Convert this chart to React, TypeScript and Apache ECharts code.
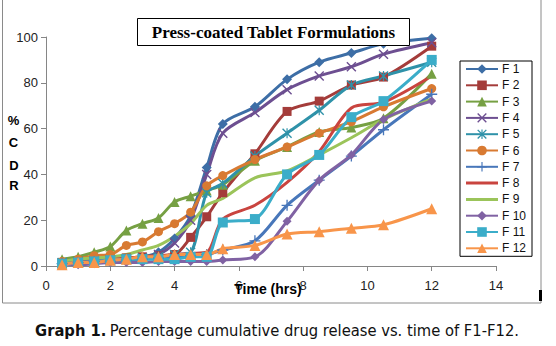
import React, { useEffect, useRef } from "react";
import * as echarts from "echarts";

const times = [0.5, 1, 1.5, 2, 2.5, 3, 3.5, 4, 4.5, 5, 5.5, 6.5, 7.5, 8.5, 9.5, 10.5, 12];

const f1 = [1, 1.5, 2, 2.5, 3, 4, 6, 12, 22, 43, 62, 69.5, 81.5, 89, 93, 97, 99.5];
const f2 = [1.5, 2, 2.5, 3, 3.5, 4, 4.5, 5, 12.5, 21.5, 32, 49, 67.5, 72, 79, 82.5, 96];
const f3 = [3, 4, 6, 8.5, 15.5, 18.5, 21, 28, 30.5, 33, 35.5, 46, 52, 58.5, 60.5, 64.5, 84];
const f4 = [1, 1.5, 2, 2.5, 3, 3.5, 5, 10, 20, 40, 58, 67, 77, 83, 87, 92.5, 97.5];
const f5 = [1.5, 2, 2.5, 3, 3, 3.5, 4, 5, 6, 32, 36, 48, 58, 68, 79, 83, 89];
const f6 = [2, 3, 4.5, 5, 9, 10.5, 15, 18.5, 23.5, 35, 39.5, 46.5, 52, 58, 63, 69.5, 77.5];
const f7 = [1, 1.5, 2, 2, 2.5, 3, 3.5, 4, 4.5, 5, 7, 11, 26.5, 37.5, 48, 59.5, 75];
const f8 = [1.5, 2, 2.5, 3, 3.5, 4, 4.5, 5, 5.5, 6, 20.5, 26.5, 36.5, 50, 69, 71.5, 83];
const f9 = [2, 3, 3.5, 4, 5, 7, 9, 13, 18.5, 26.5, 29.5, 38.5, 41.5, 48.5, 56, 64, 73];
const f10 = [1, 0.5, 1, 1.5, 1.5, 1.5, 2, 2, 2, 2, 2.6, 4, 19.5, 37.5, 48.5, 64, 72];
const f11 = [1, 1.5, 2, 2.5, 3, 3, 3, 3, 4, 4, 19, 20.5, 40, 48.5, 65, 72, 90];
const f12 = [0.5, 1.5, 1.5, 2.5, 3, 4, 4, 5, 5, 5, 7.5, 9, 14, 15, 16.5, 18, 25];

const seriesNames = ["F 1", "F 2", "F 3", "F 4", "F 5", "F 6", "F 7", "F 8", "F 9", "F 10", "F 11", "F 12"];
const seriesValues = [f1, f2, f3, f4, f5, f6, f7, f8, f9, f10, f11, f12];

const xTicks = { min: 0, max: 14, interval: 2 };
const yTicks = { min: 0, max: 100, interval: 20 };

const X_SYM = "path://M0,1L1,0L10,9L9,10Z M9,0L10,1L1,10L0,9Z";
const AST_SYM = "path://M0,1L1,0L10,9L9,10Z M9,0L10,1L1,10L0,9Z M4.4,0L5.6,0L5.6,10L4.4,10Z";
const PLUS_SYM = "path://M4.4,0L5.6,0L5.6,10L4.4,10Z M0,4.4L10,4.4L10,5.6L0,5.6Z";
const LINE_ICON = "path://M0,0L0.01,0L0,0.01Z M0,12L0.01,12L0,11.99Z M0,4.5L32,4.5L32,7.5L0,7.5Z";

const styles = [
  { color: "#3d6ea6", symbol: "diamond", size: 10 },
  { color: "#a43c3a", symbol: "rect", size: 9 },
  { color: "#76a043", symbol: "triangle", size: 10 },
  { color: "#6d4f91", symbol: X_SYM, size: 10 },
  { color: "#2f92a9", symbol: AST_SYM, size: 10 },
  { color: "#d87a32", symbol: "circle", size: 9 },
  { color: "#4877ba", symbol: PLUS_SYM, size: 11 },
  { color: "#c9443f", symbol: "none", size: 0 },
  { color: "#9bc45a", symbol: "none", size: 0 },
  { color: "#8062a3", symbol: "diamond", size: 9 },
  { color: "#3badc9", symbol: "rect", size: 10 },
  { color: "#f8954a", symbol: "triangle", size: 11 },
];

export default function App() {
  const ref = useRef<HTMLDivElement>(null);
  useEffect(() => {
    if (!ref.current) return;
    const chart = echarts.init(ref.current, null, { renderer: "svg" });
    const series = seriesNames.map((name, i) => ({
      name,
      type: "line",
      data: times.map((t, j) => [t, seriesValues[i][j]]),
      smooth: 0.3,
      symbol: styles[i].symbol,
      symbolSize: styles[i].size,
      showSymbol: styles[i].symbol !== "none",
      lineStyle: { width: 3, color: styles[i].color },
      itemStyle: { color: styles[i].color },
      emphasis: { disabled: true },
    }));
    const sans = "'Liberation Sans', Arial, sans-serif";
    const capFont = "'Liberation Sans Narrow', 'DejaVu Sans Condensed', sans-serif";
    const lbl = { fontWeight: "bold", fontSize: 13, fill: "#000", fontFamily: sans, align: "center", verticalAlign: "middle" };
    chart.setOption({
      animation: false,
      backgroundColor: "#fff",
      grid: { left: 46, top: 37, width: 450, height: 229, containLabel: false },
      xAxis: {
        type: "value",
        ...xTicks,
        axisLine: { lineStyle: { color: "#868686", width: 1 } },
        axisTick: { show: true, length: 5, lineStyle: { color: "#868686" } },
        axisLabel: { color: "#222", fontSize: 13, fontFamily: sans, margin: 13 },
        splitLine: { show: false },
      },
      yAxis: {
        type: "value",
        ...yTicks,
        axisLine: { show: true, lineStyle: { color: "#868686", width: 1 } },
        axisTick: { show: true, length: 5, lineStyle: { color: "#868686" } },
        axisLabel: { color: "#222", fontSize: 13, fontFamily: sans, margin: 8 },
        splitLine: { show: false },
      },
      legend: {
        orient: "vertical",
        left: 460,
        top: 61,
        padding: [2, 6, 2, 5],
        itemWidth: 32,
        itemHeight: 12,
        itemGap: 4.3,
        borderColor: "#000",
        borderWidth: 1,
        borderRadius: 0,
        backgroundColor: "#fff",
        textStyle: { fontSize: 12, color: "#111", fontFamily: sans, padding: [0, 0, 0, -1] },
        data: seriesNames.map((name, i) =>
          styles[i].symbol === "none" ? { name, icon: LINE_ICON } : { name }
        ),
      },
      series,
      graphic: [
        { type: "rect", shape: { x: 2.5, y: -5, width: 538.5, height: 308 }, style: { fill: "none", stroke: "#8a8a8a", lineWidth: 1 }, silent: true, z: 100 },
        { type: "rect", shape: { x: 539, y: 290, width: 3, height: 11 }, style: { fill: "#000" }, silent: true, z: 101 },
        { type: "rect", shape: { x: 137.5, y: 18.5, width: 272, height: 27 }, style: { fill: "#fff", stroke: "#000", lineWidth: 1 }, z: 100 },
        { type: "text", x: 273.5, y: 32.5, z: 101, style: { text: "Press-coated Tablet Formulations", fontFamily: "'Liberation Serif', 'Times New Roman', serif", fontWeight: "bold", fontSize: 17, fill: "#000", align: "center", verticalAlign: "middle" } },
        { type: "text", x: 13.5, y: 120, z: 101, style: { ...lbl, text: "%" } },
        { type: "text", x: 13.5, y: 142, z: 101, style: { ...lbl, text: "C" } },
        { type: "text", x: 14, y: 165, z: 101, style: { ...lbl, text: "D" } },
        { type: "text", x: 14, y: 185, z: 101, style: { ...lbl, text: "R" } },
        { type: "text", x: 268, y: 289, z: 101, style: { ...lbl, fontSize: 14, text: "Time (hrs)" } },
        {
          type: "text", x: 277, y: 330, z: 101,
          style: {
            text: "{b|Graph 1.} {n|Percentage cumulative drug release vs. time of F1-F12.}",
            align: "center", verticalAlign: "middle",
            rich: {
              b: { fontWeight: "bold", fontSize: 16.4, fill: "#111", fontFamily: capFont },
              n: { fontSize: 16.4, fill: "#111", fontFamily: capFont },
            },
          },
        },
      ],
    });
    return () => chart.dispose();
  }, []);
  return <div ref={ref} style={{ position: "fixed", left: 0, top: 0, width: 556, height: 346 }} />;
}
